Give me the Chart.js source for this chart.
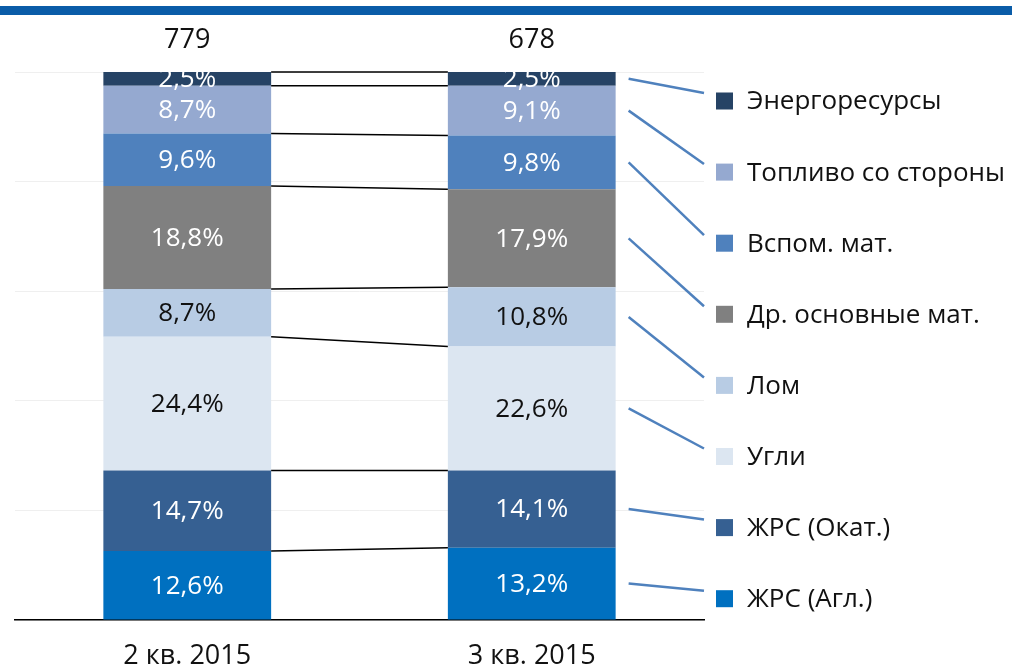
<!DOCTYPE html>
<html>
<head>
<meta charset="utf-8">
<script src="https://cdn.jsdelivr.net/npm/chart.js@4.4.0/dist/chart.umd.min.js"></script>
<style>
html, body { margin: 0; padding: 0; background: #fff; }
#wrap { position: relative; width: 1012px; height: 665px; overflow: hidden; }
#band { position: absolute; left: 0; top: 6px; width: 1012px; height: 9px; background: #0A5CA8; }
canvas { position: absolute; left: 0; top: 0; }
</style>
</head>
<body>
<div id="wrap">
  <div id="band"></div>
  <canvas id="chart" width="1012" height="665"></canvas>
</div>
<script>
// data (shares in %, totals above the bars)
const quarters = ['2 кв. 2015', '3 кв. 2015'];
const totals = [779, 678];

const seriesNames = ['ЖРС (Агл.)', 'ЖРС (Окат.)', 'Угли', 'Лом', 'Др. основные мат.', 'Вспом. мат.', 'Топливо со стороны', 'Энергоресурсы'];
const aglValues = [12.6, 13.2];
const okatValues = [14.7, 14.1];
const ugliValues = [24.4, 22.6];
const lomValues = [8.7, 10.8];
const drValues = [18.8, 17.9];
const vspomValues = [9.6, 9.8];
const toplivoValues = [8.7, 9.1];
const energyValues = [2.5, 2.5];

const seriesColors = ['#0070C0', '#366092', '#DCE6F1', '#B8CCE4', '#808080', '#4F81BD', '#95A9D0', '#264365'];
const labelColors = ['#fff', '#fff', '#111', '#111', '#fff', '#fff', '#fff', '#fff'];

const allValues = [aglValues, okatValues, ugliValues, lomValues, drValues, vspomValues, toplivoValues, energyValues];

const FONT = '"Open Sans", "Noto Sans", sans-serif';

const datasets = seriesNames.map((name, i) => ({
    label: name,
    data: allValues[i],
    backgroundColor: seriesColors[i],
    borderWidth: 0,
    categoryPercentage: 0.487,
    barPercentage: 1
}));

const overlay = {
    id: 'overlay',
    afterDatasetsDraw(chart) {
        const ctx = chart.ctx;
        const area = chart.chartArea;
        const metas = datasets.map((d, i) => chart.getDatasetMeta(i));

        // connector lines between the bars
        ctx.save();
        ctx.strokeStyle = '#000';
        ctx.lineWidth = 1.5;
        metas.forEach(meta => {
            const a = meta.data[0], b = meta.data[1];
            ctx.beginPath();
            ctx.moveTo(a.x + a.width / 2, a.y);
            ctx.lineTo(b.x - b.width / 2, b.y);
            ctx.stroke();
        });
        ctx.restore();

        // percent labels inside segments
        ctx.save();
        ctx.beginPath();
        ctx.rect(area.left, area.top, area.right - area.left, area.bottom - area.top);
        ctx.clip();
        ctx.font = '26px ' + FONT;
        ctx.textAlign = 'center';
        ctx.textBaseline = 'middle';
        metas.forEach((meta, i) => {
            meta.data.forEach((el, j) => {
                const txt = allValues[i][j].toFixed(1).replace('.', ',') + '%';
                ctx.fillStyle = labelColors[i];
                ctx.fillText(txt, el.x, (el.y + el.base) / 2 + 1);
            });
        });
        ctx.restore();

        // totals above the bars
        ctx.save();
        ctx.font = '27px ' + FONT;
        ctx.fillStyle = '#111';
        ctx.textAlign = 'center';
        ctx.textBaseline = 'middle';
        totals.forEach((t, j) => {
            ctx.fillText(String(t), chart.scales.x.getPixelForValue(j), 40);
        });
        ctx.restore();

        // legend with leader lines
        ctx.save();
        const n = seriesNames.length;
        for (let k = 0; k < n; k++) {
            const i = n - 1 - k;
            const y = 101 + k * 71.1;
            const el = metas[i].data[1];
            ctx.strokeStyle = '#4F81BD';
            ctx.lineWidth = 2.5;
            ctx.beginPath();
            ctx.moveTo(el.x + el.width / 2 + 13, (el.y + el.base) / 2);
            ctx.lineTo(704, y - 8);
            ctx.stroke();

            ctx.fillStyle = seriesColors[i];
            ctx.fillRect(716, y - 8.5, 17, 17);
            ctx.fillStyle = '#111';
            ctx.font = '26px ' + FONT;
            ctx.textAlign = 'left';
            ctx.textBaseline = 'middle';
            ctx.fillText(seriesNames[i], 747, y + 1);
        }
        ctx.restore();
    }
};

new Chart(document.getElementById('chart'), {
    type: 'bar',
    data: { labels: quarters, datasets: datasets },
    options: {
        responsive: false,
        animation: false,
        layout: { padding: { top: 72, left: 15, right: 308, bottom: 0 } },
        plugins: {
            legend: { display: false },
            tooltip: { enabled: false }
        },
        scales: {
            x: {
                stacked: true,
                grid: { display: false },
                border: { display: true, color: '#000', width: 1.5 },
                ticks: {
                    color: '#111',
                    font: { family: FONT, size: 27 },
                    padding: 12
                },
                afterFit: (scale) => { scale.height = 45; }
            },
            y: {
                stacked: true,
                min: 0,
                max: 100,
                ticks: { display: false, stepSize: 20 },
                grid: { color: '#EFEFEF', drawTicks: false },
                border: { display: false },
                afterFit: (scale) => { scale.width = 0; }
            }
        }
    },
    plugins: [overlay]
});
</script>
</body>
</html>
